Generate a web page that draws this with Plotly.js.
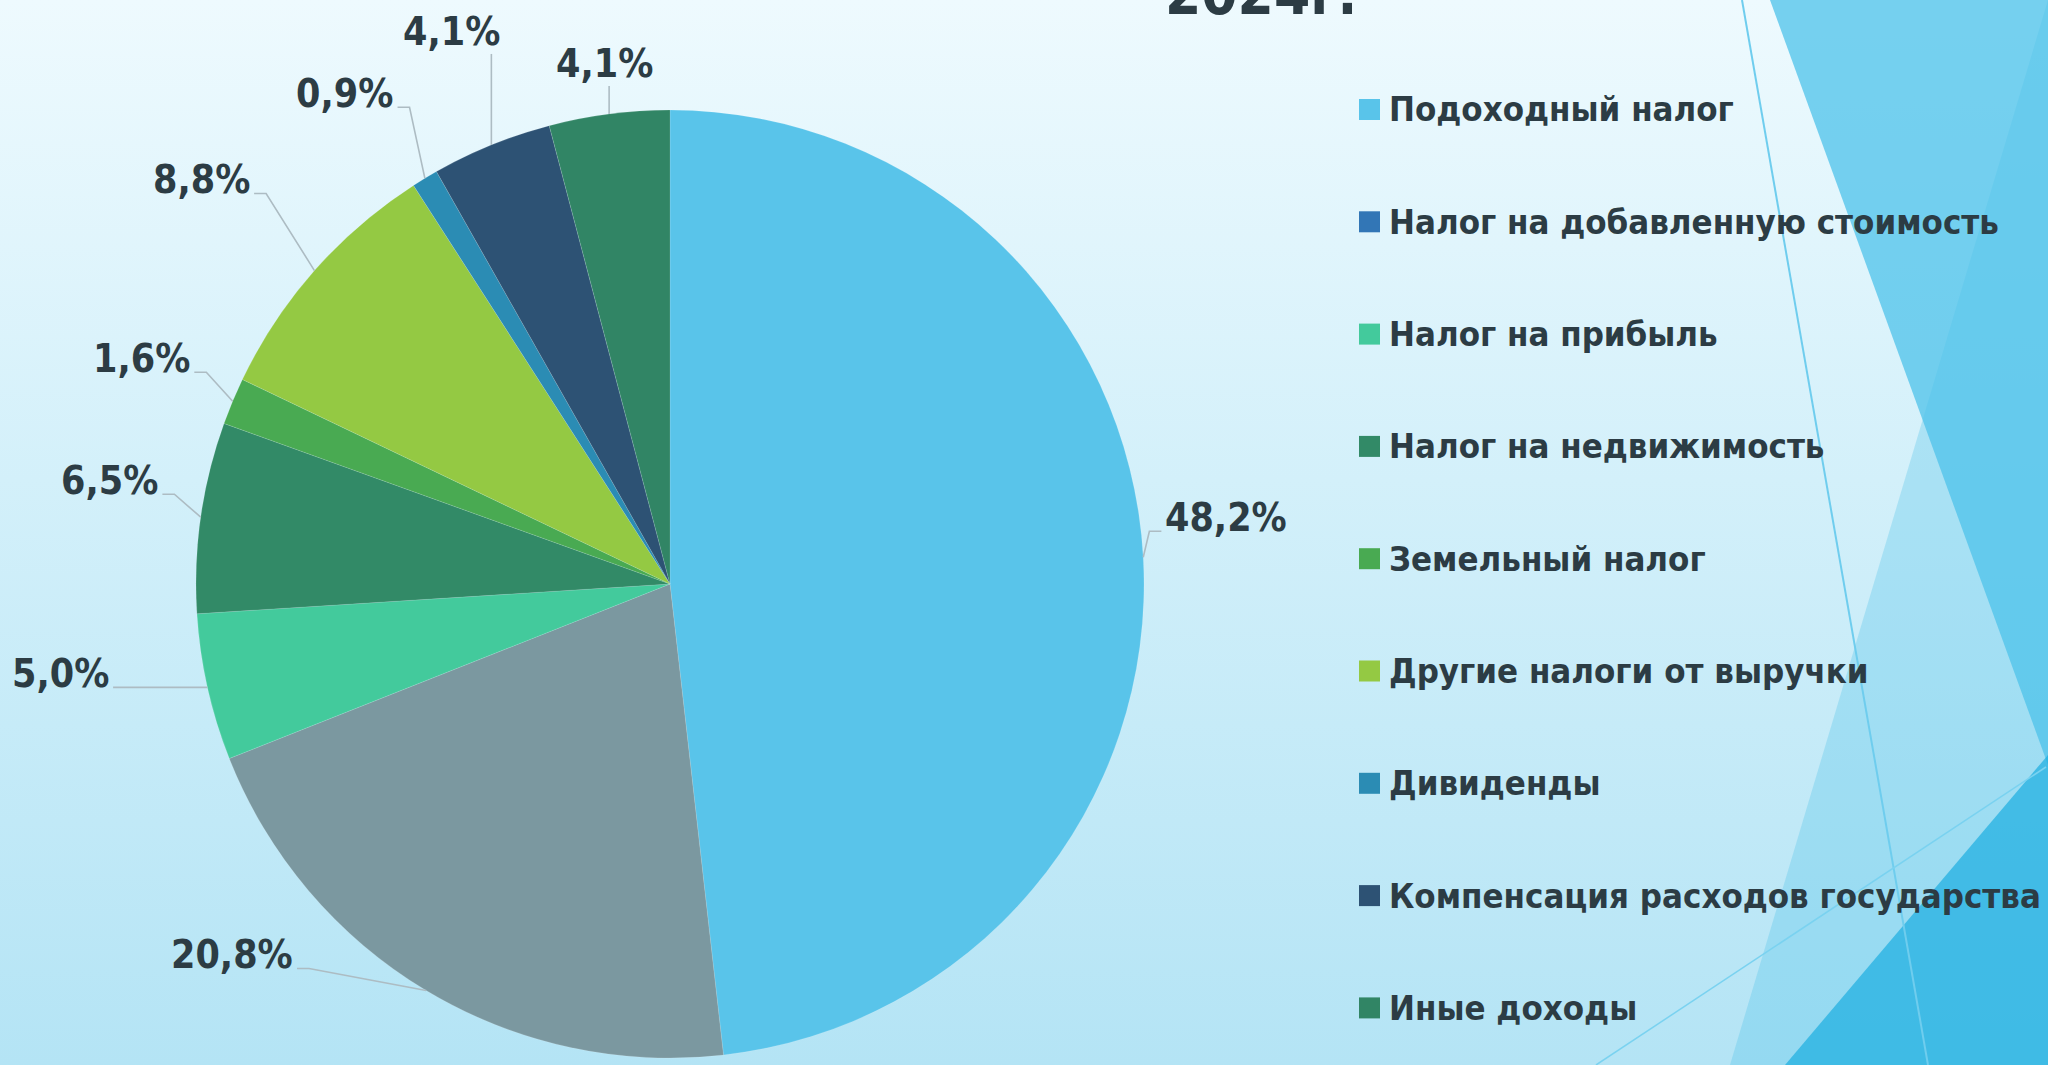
<!DOCTYPE html>
<html><head><meta charset="utf-8">
<script src="https://cdn.plot.ly/plotly-3.0.1.min.js"></script>
<style>
html,body{margin:0;padding:0;width:2048px;height:1065px;overflow:hidden;
background:linear-gradient(to bottom,#eefafe 0%,#d3f0fa 45%,#b4e4f5 100%);}
#chart{width:2048px;height:1065px;}
</style></head><body><div id="chart"></div>
<script>
// ---- data ----
const categories = [
  'Подоходный налог',
  'Налог на добавленную стоимость',
  'Налог на прибыль',
  'Налог на недвижимость',
  'Земельный налог',
  'Другие налоги от выручки',
  'Дивиденды',
  'Компенсация расходов государства',
  'Иные доходы'
];
const shares = [48.2, 20.8, 5.0, 6.5, 1.6, 8.8, 0.9, 4.1, 4.1];
const titleText = '2024г.';

// ---- styles ----
const sliceColors = ['#59c4ea','#7b98a0','#43ca9c','#328a67','#49aa52','#94c943','#2b8cb4','#2d5274','#318565'];
const legendColors = ['#59c4ea','#3276b6','#43ca9c','#328a67','#49aa52','#94c943','#2b8cb4','#2d5274','#318565'];
// label offsets from slice edge (pixels)
const labelDX = [83,-194,-147,-91,-91,-113,-80,-40,-5];
const labelDY = [-40,-36,-14,-37,-43,-91,-85,-113,-50];

const W = 2048, H = 1065;
const FONT = 'DejaVu Sans Condensed, DejaVu Sans, sans-serif';
const TXT = '#2c3c44';
const LBL_SIZE = 39;
const domX = [0.0957, 0.5586], domY = [0.00657, 0.8967];
const px = x => x / W, py = y => 1 - y / H;

const cx = (domX[0] + domX[1]) / 2 * W;
const cy = (1 - (domY[0] + domY[1]) / 2) * H;
const R = Math.min((domX[1] - domX[0]) * W, (domY[1] - domY[0]) * H) / 2;

const ctx = document.createElement('canvas').getContext('2d');
ctx.font = 'bold ' + LBL_SIZE + 'px "DejaVu Sans Condensed", "DejaVu Sans", sans-serif';

const total = shares.reduce((a, b) => a + b, 0);
const annotations = [];
const shapes = [];
const pt = (x, y) => px(x) + ',' + py(y);

// decorative background facets
const poly = pts => 'M' + pts.map(p => pt(p[0], p[1])).join(' L') + ' Z';
shapes.push({type: 'path', xref: 'paper', yref: 'paper', layer: 'below', line: {width: 0},
  path: poly([[1730,1065],[2048,0],[2048,1065]]), fillcolor: 'rgba(79,195,234,0.31)'});
shapes.push({type: 'path', xref: 'paper', yref: 'paper', layer: 'below', line: {width: 0},
  path: poly([[1770,0],[2048,0],[2048,765]]), fillcolor: 'rgba(79,195,234,0.76)'});
shapes.push({type: 'path', xref: 'paper', yref: 'paper', layer: 'below', line: {width: 0},
  path: poly([[2048,755],[2048,1065],[1785,1065]]), fillcolor: 'rgba(30,175,225,0.72)'});
shapes.push({type: 'line', xref: 'paper', yref: 'paper', layer: 'below',
  x0: px(1742), y0: py(0), x1: px(1928), y1: py(1065), line: {color: '#6fcdee', width: 2}});
shapes.push({type: 'line', xref: 'paper', yref: 'paper', layer: 'below',
  x0: px(2046), y0: py(767), x1: px(1596), y1: py(1065), line: {color: '#7ad2f0', width: 1.5}});

// data labels with elbow leader lines
let cum = 0;
shares.forEach((v, i) => {
  const mid = (cum + v / 2) / total * 2 * Math.PI;
  cum += v;
  const ex = cx + R * Math.sin(mid), ey = cy - R * Math.cos(mid);
  const tx = ex + labelDX[i], ty = ey + labelDY[i];
  const txt = v.toFixed(1).replace('.', ',') + '%';
  const hw = ctx.measureText(txt).width / 2;
  annotations.push({
    x: px(tx), y: py(ty), xref: 'paper', yref: 'paper', xanchor: 'center', yanchor: 'middle',
    text: txt, showarrow: false,
    font: {family: FONT, size: LBL_SIZE, color: TXT, weight: 'bold'}
  });
  let path;
  if (Math.abs(ex - tx) < hw) {
    path = 'M' + pt(ex, ty + 22) + ' L' + pt(ex, ey);
  } else {
    const s = ex > tx ? 1 : -1;
    const sx = tx + s * (hw + 4), kx = tx + s * (hw + 16), ly = ty + 14;
    path = 'M' + pt(sx, ly) + ' L' + pt(kx, ly) + ' L' + pt(ex, ey);
  }
  shapes.push({type: 'path', xref: 'paper', yref: 'paper', layer: 'above', path: path,
    line: {color: '#adbcc3', width: 1.6}});
});

// legend (custom: swatch colours differ from slices)
const legX = 1359, legSw = 21, legY0 = 109.5, legStep = 112.3;
categories.forEach((c, i) => {
  const yc = legY0 + i * legStep;
  shapes.push({type: 'rect', xref: 'paper', yref: 'paper', layer: 'above',
    x0: px(legX), x1: px(legX + legSw), y0: py(yc - legSw / 2), y1: py(yc + legSw / 2),
    fillcolor: legendColors[i], line: {width: 0}});
  annotations.push({x: px(legX + legSw + 7), y: py(yc), xref: 'paper', yref: 'paper',
    xanchor: 'left', yanchor: 'middle', showarrow: false, text: c,
    font: {family: FONT, size: 34.5, color: TXT, weight: 'bold'}});
});

annotations.push({x: px(1261), y: 1.006, xref: 'paper', yref: 'paper', xanchor: 'center', yanchor: 'middle',
  showarrow: false, text: titleText, font: {family: FONT, size: 58, color: TXT, weight: 'bold'}});

const trace = {
  type: 'pie', values: shares, labels: categories, sort: false,
  direction: 'clockwise', rotation: 0, textinfo: 'none', hoverinfo: 'label+percent',
  marker: {colors: sliceColors, line: {color: 'rgba(255,255,255,0.25)', width: 0.5}},
  domain: {x: domX, y: domY}, showlegend: false
};

Plotly.newPlot('chart', [trace], {
  width: W, height: H, margin: {l: 0, r: 0, t: 0, b: 0},
  paper_bgcolor: 'rgba(0,0,0,0)', plot_bgcolor: 'rgba(0,0,0,0)',
  showlegend: false, shapes: shapes, annotations: annotations
}, {displayModeBar: false, staticPlot: true});
</script></body></html>
